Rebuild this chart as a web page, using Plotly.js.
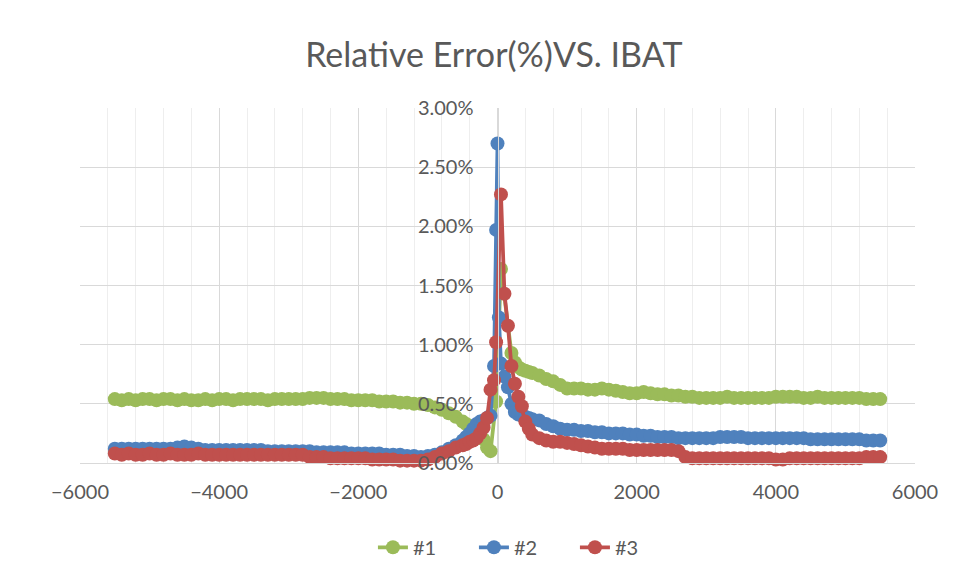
<!DOCTYPE html>
<html>
<head>
<meta charset="utf-8">
<script src="https://cdn.plot.ly/plotly-3.0.1.min.js"></script>
<style>
  html, body { margin: 0; padding: 0; background: #ffffff; }
  #chart { width: 957px; height: 581px; }
</style>
</head>
<body>
<div id="chart"></div>
<script>
// IBAT (mA) sample points
const xIbat = [
  -5500,-5400,-5300,-5200,-5100,-5000,-4900,-4800,-4700,-4600,-4500,-4400,-4300,-4200,-4100,-4000,-3900,-3800,-3700,-3600,-3500,-3400,-3300,-3200,-3100,-3000,
  -2900,-2800,-2700,-2600,-2500,-2400,-2300,-2200,-2100,-2000,
  -1900,-1800,-1700,-1600,-1500,-1400,-1300,-1200,-1100,-1000,
  -900,-800,-700,-600,
  -500,-450,-400,-350,-300,-250,-200,-150,-100,-50,
  -20,0,20,
  50,100,150,200,250,300,350,400,450,500,
  600,700,800,900,
  1000,1100,1200,1300,1400,1500,1600,1700,1800,1900,
  2000,2100,2200,2300,2400,2500,2600,2700,2800,2900,
  3000,3100,3200,3300,3400,3500,3600,3700,3800,3900,4000,4100,4200,4300,4400,4500,4600,4700,4800,4900,5000,5100,5200,5300,5400,5500
];

// Relative error (%) of #1
const err1 = [
  0.54,0.53,0.54,0.53,0.54,0.54,0.53,0.54,0.54,0.53,0.54,0.53,0.53,0.54,0.53,0.54,0.54,0.53,0.54,0.54,0.54,0.54,0.53,0.54,0.54,0.54,
  0.54,0.54,0.55,0.55,0.55,0.54,0.54,0.54,0.53,0.53,
  0.53,0.53,0.52,0.52,0.52,0.51,0.51,0.50,0.50,0.49,
  0.47,0.45,0.42,0.39,
  0.35,0.33,0.31,0.29,0.27,0.25,0.20,0.13,0.10,null,
  0.52,null,null,
  1.64,null,null,0.93,0.85,0.81,0.79,0.78,0.77,0.76,
  0.74,0.71,0.69,0.66,
  0.63,0.63,0.63,0.62,0.62,0.63,0.62,0.61,0.60,0.59,
  0.59,0.60,0.59,0.58,0.58,0.57,0.57,0.56,0.56,0.55,
  0.55,0.55,0.55,0.56,0.55,0.55,0.55,0.55,0.55,0.55,0.56,0.56,0.56,0.56,0.55,0.55,0.56,0.55,0.55,0.55,0.55,0.55,0.55,0.54,0.54,0.54
];

// Relative error (%) of #2
const err2 = [
  0.12,0.12,0.12,0.12,0.12,0.12,0.12,0.12,0.12,0.13,0.14,0.13,0.12,0.11,0.11,0.11,0.11,0.11,0.11,0.11,0.11,0.11,0.10,0.10,0.10,0.10,
  0.10,0.10,0.10,0.09,0.09,0.09,0.09,0.09,0.08,0.08,
  0.08,0.08,0.08,0.07,0.07,0.07,0.06,0.06,0.05,0.06,
  0.07,0.09,0.12,0.15,
  0.19,0.22,0.25,0.29,0.33,0.35,0.36,0.38,0.40,0.82,
  1.97,2.70,1.23,
  0.84,0.73,0.64,0.50,0.43,0.41,0.40,0.39,0.38,0.37,
  0.36,0.33,0.31,0.29,
  0.28,0.28,0.27,0.27,0.26,0.26,0.25,0.25,0.25,0.24,
  0.24,0.23,0.23,0.22,0.22,0.22,0.21,0.21,0.21,0.21,
  0.21,0.21,0.22,0.22,0.22,0.22,0.21,0.21,0.21,0.21,0.21,0.21,0.21,0.21,0.21,0.20,0.20,0.20,0.20,0.20,0.20,0.20,0.20,0.19,0.19,0.19
];

// Relative error (%) of #3
const err3 = [
  0.08,0.07,0.08,0.07,0.07,0.08,0.07,0.07,0.08,0.07,0.07,0.07,0.08,0.07,0.07,0.07,0.07,0.07,0.07,0.07,0.07,0.07,0.07,0.07,0.07,0.07,
  0.07,0.07,0.05,0.05,0.05,0.04,0.04,0.04,0.04,0.04,
  0.04,0.03,0.03,0.03,0.03,0.02,0.02,0.02,0.02,0.03,
  0.05,0.08,0.10,0.13,
  0.15,0.16,0.18,0.19,0.21,0.25,0.30,0.38,0.62,0.70,
  1.02,null,null,
  2.27,1.43,1.16,0.82,0.67,0.56,0.48,0.35,0.29,0.24,
  0.21,0.19,0.18,0.18,
  0.17,0.16,0.15,0.14,0.13,0.12,0.12,0.12,0.12,0.11,
  0.11,0.11,0.11,0.11,0.11,0.11,0.10,0.05,0.04,0.04,
  0.04,0.04,0.04,0.04,0.04,0.04,0.04,0.04,0.04,0.04,0.03,0.03,0.04,0.04,0.04,0.04,0.04,0.04,0.04,0.04,0.04,0.04,0.04,0.05,0.05,0.05
];

const seriesNames = ['#1', '#2', '#3'];
const seriesColors = ['#9BBB59', '#4F81BD', '#C0504D'];
const seriesValues = [err1, err2, err3];

const FONT = 'Lato, "Open Sans", sans-serif';
const TXT = '#595959';

const traces = seriesValues.map((vals, i) => ({
  type: 'scatter',
  mode: 'lines+markers',
  name: seriesNames[i],
  x: xIbat,
  y: vals,
  connectgaps: true,
  line: { color: seriesColors[i], width: 3.75 },
  marker: { color: seriesColors[i], size: 14 },
  cliponaxis: false
}));

const layout = {
  width: 957,
  height: 581,
  margin: { l: 80, r: 42, t: 108, b: 118 },
  paper_bgcolor: '#ffffff',
  plot_bgcolor: '#ffffff',
  font: { family: FONT, color: TXT, size: 20 },
  title: {
    text: 'Relative Error(%)VS. IBAT',
    font: { family: FONT, size: 34, color: TXT },
    xref: 'container', x: 0.516, xanchor: 'center',
    yref: 'container', y: 0.905, yanchor: 'middle'
  },
  showlegend: true,
  legend: {
    orientation: 'h',
    xref: 'container', x: 0.548, xanchor: 'center',
    yref: 'container', y: 0.058, yanchor: 'middle',
    entrywidth: 56,
    font: { family: FONT, size: 20, color: TXT },
    bgcolor: 'rgba(0,0,0,0)'
  },
  xaxis: {
    range: [-6000, 6000],
    tick0: 0, dtick: 2000,
    showgrid: true, gridcolor: '#d9d9d9', gridwidth: 1,
    minor: { dtick: 400, tick0: 0, showgrid: true, gridcolor: '#eeeeee', gridwidth: 1 },
    zeroline: false,
    showline: true, linecolor: '#d9d9d9', linewidth: 1,
    ticks: 'outside', ticklen: 11, tickcolor: 'rgba(0,0,0,0)',
    tickfont: { family: FONT, size: 20, color: TXT },
    fixedrange: true
  },
  yaxis: {
    range: [0, 3],
    tick0: 0, dtick: 0.5,
    tickformat: '.2f', ticksuffix: '%',
    anchor: 'free', position: 0.5,
    showgrid: true, gridcolor: '#d9d9d9', gridwidth: 1,
    zeroline: false,
    showline: true, linecolor: '#d9d9d9', linewidth: 1,
    ticks: '', ticklabelstandoff: 20,
    tickfont: { family: FONT, size: 20, color: TXT },
    fixedrange: true
  }
};

Plotly.newPlot('chart', traces, layout, { displayModeBar: false, staticPlot: true });
</script>
</body>
</html>
